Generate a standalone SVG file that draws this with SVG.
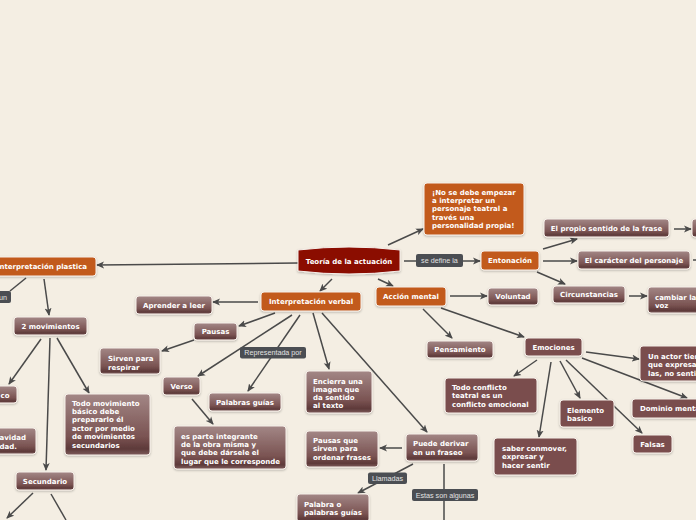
<svg xmlns="http://www.w3.org/2000/svg" width="696" height="520" viewBox="0 0 696 520">
<defs>
<linearGradient id="gr" x1="0" y1="0" x2="0" y2="1">
<stop offset="0" stop-color="#a38786"/>
<stop offset="0.7" stop-color="#7a5352"/>
<stop offset="0.9" stop-color="#5e3a3a"/>
<stop offset="1" stop-color="#7d5b5a"/>
</linearGradient>
<marker id="ah" markerWidth="8" markerHeight="8" refX="7" refY="4" orient="auto" markerUnits="userSpaceOnUse">
<path d="M0,0.5 L8,4 L0,7.5 L2,4 Z" fill="#4a4a4a"/>
</marker>
<filter id="sh" x="-10%" y="-10%" width="120%" height="140%">
<feDropShadow dx="0" dy="1" stdDeviation="0.8" flood-color="#000" flood-opacity="0.25"/>
</filter>
</defs>
<style>
.c{fill:none;stroke:#4a4a4a;stroke-width:1.5}
.a{marker-end:url(#ah)}
.g{fill:url(#gr);stroke:#f7f0ea;stroke-width:1;filter:url(#sh)}
.f{fill:#7a4e4d;stroke:#f7f0ea;stroke-width:1;filter:url(#sh)}
.o{fill:#c25a1f;stroke:#f7f0ea;stroke-width:1;filter:url(#sh)}
.t{fill:#fff;font-family:"DejaVu Sans",Verdana,sans-serif;font-weight:bold;font-size:7px}
.m{text-anchor:middle}
.e{text-anchor:end}
.lb{fill:#4b4e53}
.lt{fill:#e2e2e2;font-family:"Liberation Sans",Arial,sans-serif;font-size:7.2px;text-anchor:middle}
</style>
<rect width="696" height="520" fill="#f4eee3"/>
<g id="connectors">
<path class="c a" d="M298,263 L97,265"/>
<path class="c" d="M26,278 L10,291"/>
<path class="c a" d="M44,279 L49,315"/>
<path class="c a" d="M41,339 L9,384"/>
<path class="c a" d="M50,338 L46,470"/>
<path class="c a" d="M57,338 L89,393"/>
<path class="c a" d="M33,493 L7,518"/>
<path class="c" d="M51,494 L66,520"/>
<path class="c a" d="M332,279 L320,291"/>
<path class="c a" d="M378,279 L393,286"/>
<path class="c a" d="M258,302 L213,302"/>
<path class="c a" d="M275,313 L239,326"/>
<path class="c a" d="M194,340 L162,351"/>
<path class="c a" d="M292,315 L198,376"/>
<path class="c a" d="M300,315 L248,391"/>
<path class="c a" d="M313,313 L329,369"/>
<path class="c a" d="M322,313 L427,432"/>
<path class="c a" d="M192,399 L213,424"/>
<path class="c a" d="M402,448 L380,448"/>
<path class="c a" d="M413,464 L358,493"/>
<path class="c" d="M444,464 L444,520"/>
<path class="c a" d="M388,245 L423,229"/>
<path class="c a" d="M404,261 L480,261"/>
<path class="c a" d="M543,249 L577,239"/>
<path class="c a" d="M674,229 L691,229"/>
<path class="c a" d="M543,261 L577,261"/>
<path class="c" d="M693,260 L700,260"/>
<path class="c a" d="M537,272 L565,284"/>
<path class="c a" d="M629,296 L647,296"/>
<path class="c a" d="M450,296 L487,296"/>
<path class="c a" d="M423,309 L452,338"/>
<path class="c a" d="M441,308 L524,337"/>
<path class="c a" d="M586,352 L639,359"/>
<path class="c a" d="M537,360 L514,376"/>
<path class="c a" d="M551,362 L539,437"/>
<path class="c a" d="M560,361 L580,398"/>
<path class="c a" d="M566,360 L642,433"/>
<path class="c a" d="M582,358 L687,398"/>
</g>
<g id="lbl-un"><rect class="lb" x="-8" y="291" width="19" height="12" rx="2"/><text class="lt" x="7" y="299.5" style="text-anchor:end">un</text></g>
<g id="lbl-representada"><rect class="lb" x="240" y="347" width="66" height="11.5" rx="2"/><text class="lt" x="273" y="355.3">Representada por</text></g>
<g id="lbl-llamadas"><rect class="lb" x="368" y="472.5" width="39" height="11.5" rx="2"/><text class="lt" x="387.5" y="480.8">Llamadas</text></g>
<g id="lbl-estas"><rect class="lb" x="412" y="489" width="66" height="12" rx="2"/><text class="lt" x="445" y="497.6">Estas son algunas</text></g>
<g id="lbl-define"><rect class="lb" x="416" y="254" width="47" height="13" rx="2"/><text class="lt" x="439.5" y="263">se define la</text></g>

<g id="teoria"><path d="M298,250 Q349,244 400,250 L400,271 Q349,277 298,271 Z" fill="#8b0b03" stroke="#f7f0ea" stroke-width="1" filter="url(#sh)"/><text class="t m" x="349" y="263.5">Teoría de la actuación</text></g>
<g id="plastica"><rect class="o" x="-12" y="257" width="108" height="19" rx="3"/><text class="t m" x="42" y="269">Interpretación plastica</text></g>
<g id="movimientos"><rect class="g" x="14" y="317" width="73" height="18" rx="3"/><text class="t m" x="50.5" y="328.8">2 movimientos</text></g>
<g id="basico"><rect class="g" x="-30" y="386" width="47" height="17" rx="3"/><text class="t e" x="9.5" y="397.5">co</text></g>
<g id="gravidad"><rect class="g" x="-30" y="428" width="66" height="26" rx="3"/><text class="t e" x="26" y="440">avidad</text><text class="t e" x="17" y="449">idad.</text></g>
<g id="todomov"><rect class="g" x="65" y="394" width="85" height="61" rx="3"/><text class="t" x="72"><tspan x="72" y="405.5">Todo movimiento</tspan><tspan x="72" y="413.9">básico debe</tspan><tspan x="72" y="422.3">prepararlo él</tspan><tspan x="72" y="430.7">actor por medio</tspan><tspan x="72" y="439.1">de movimientos</tspan><tspan x="72" y="447.5">secundarios</tspan></text></g>
<g id="secundario"><rect class="g" x="16" y="472" width="58" height="18" rx="3"/><text class="t m" x="45" y="483.5">Secundario</text></g>
<g id="aprender"><rect class="g" x="136" y="296" width="76" height="18" rx="3"/><text class="t m" x="174" y="307.8">Aprender a leer</text></g>
<g id="sirven"><rect class="g" x="100" y="348" width="60" height="26" rx="3"/><text class="t"><tspan x="108" y="360.5">Sirven para</tspan><tspan x="108" y="369.5">respirar</tspan></text></g>
<g id="verbal"><rect class="o" x="261" y="292" width="100" height="19" rx="3"/><text class="t m" x="311" y="304.3">Interpretación verbal</text></g>
<g id="pausas"><rect class="g" x="194" y="323" width="43" height="17" rx="3"/><text class="t m" x="215.5" y="334">Pausas</text></g>
<g id="verso"><rect class="g" x="163" y="377" width="37" height="18" rx="3"/><text class="t m" x="181.5" y="388.8">Verso</text></g>
<g id="palabras"><rect class="g" x="209" y="393" width="72" height="18" rx="3"/><text class="t m" x="245" y="404.8">Palabras guías</text></g>
<g id="esparte"><rect class="g" x="174" y="426" width="112" height="43" rx="3"/><text class="t"><tspan x="181" y="438.5">es parte integrante</tspan><tspan x="181" y="446.9">de la obra misma y</tspan><tspan x="181" y="455.3">que debe dársele el</tspan><tspan x="181" y="463.7">lugar que le corresponde</tspan></text></g>
<g id="encierra"><rect class="g" x="306" y="371" width="66" height="42" rx="3"/><text class="t"><tspan x="313" y="383.5">Encierra una</tspan><tspan x="313" y="391.8">imagen que</tspan><tspan x="313" y="400.1">da sentido</tspan><tspan x="313" y="408.4">al texto</tspan></text></g>
<g id="pausasque"><rect class="g" x="306" y="431" width="72" height="36" rx="3"/><text class="t"><tspan x="313" y="442.5">Pausas que</tspan><tspan x="313" y="451">sirven para</tspan><tspan x="313" y="459.5">ordenar frases</tspan></text></g>
<g id="puede"><rect class="g" x="406" y="434" width="72" height="27" rx="3"/><text class="t"><tspan x="413" y="445.5">Puede derivar</tspan><tspan x="413" y="454.5">en un fraseo</tspan></text></g>
<g id="palabra"><rect class="g" x="297" y="494" width="72" height="28" rx="3"/><text class="t"><tspan x="304" y="506.5">Palabra o</tspan><tspan x="304" y="515">palabras guías</tspan></text></g>
<g id="nose"><rect class="o" x="424" y="183" width="100" height="52" rx="3"/><text class="t"><tspan x="432" y="194.5">¡No se debe empezar</tspan><tspan x="432" y="202.9">a interpretar un</tspan><tspan x="432" y="211.3">personaje teatral a</tspan><tspan x="432" y="219.7">través una</tspan><tspan x="432" y="228.1">personalidad propia!</tspan></text></g>
<g id="entonacion"><rect class="o" x="481" y="251" width="58" height="19" rx="3"/><text class="t m" x="510" y="263">Entonación</text></g>
<g id="propio"><rect class="g" x="544" y="219" width="125" height="18" rx="3"/><text class="t m" x="606.5" y="230.5">El propio sentido de la frase</text></g>
<g id="propio-next"><rect class="g" x="692" y="219" width="20" height="18" rx="3"/></g>
<g id="caracter"><rect class="g" x="578" y="251" width="112" height="18" rx="3"/><text class="t m" x="634" y="262.5">El carácter del personaje</text></g>
<g id="circunstancias"><rect class="g" x="553" y="286" width="72" height="17" rx="3"/><text class="t m" x="589" y="297">Circunstancias</text></g>
<g id="cambiar"><rect class="g" x="648" y="287" width="62" height="26" rx="3"/><text class="t"><tspan x="655" y="299.5">cambiar la</tspan><tspan x="655" y="308">voz</tspan></text></g>
<g id="accion"><rect class="o" x="376" y="287" width="70" height="19" rx="3"/><text class="t m" x="411" y="299.3">Acción mental</text></g>
<g id="voluntad"><rect class="g" x="488" y="288" width="50" height="17" rx="3"/><text class="t m" x="513" y="299">Voluntad</text></g>
<g id="pensamiento"><rect class="g" x="427" y="341" width="66" height="17" rx="3"/><text class="t m" x="460" y="352">Pensamiento</text></g>
<g id="emociones"><rect class="f" x="525" y="338" width="57" height="18" rx="3"/><text class="t m" x="553.5" y="349.5">Emociones</text></g>
<g id="unactor"><rect class="f" x="640" y="346" width="70" height="35" rx="3"/><text class="t"><tspan x="648" y="358.5">Un actor tiene</tspan><tspan x="648" y="367">que expresar</tspan><tspan x="648" y="375.5">las, no sentirlas</tspan></text></g>
<g id="conflicto"><rect class="f" x="445" y="378" width="92" height="35" rx="3"/><text class="t"><tspan x="452" y="389.5">Todo conflicto</tspan><tspan x="452" y="397.8">teatral es un</tspan><tspan x="452" y="406.5">conflicto emocional</tspan></text></g>
<g id="saber"><rect class="f" x="494" y="438" width="83" height="37" rx="3"/><text class="t"><tspan x="502" y="450.5">saber conmover,</tspan><tspan x="502" y="459">expresar y</tspan><tspan x="502" y="467.5">hacer sentir</tspan></text></g>
<g id="elemento"><rect class="f" x="560" y="400" width="54" height="27" rx="3"/><text class="t"><tspan x="567" y="412.5">Elemento</tspan><tspan x="567" y="421">basico</tspan></text></g>
<g id="falsas"><rect class="f" x="633" y="435" width="39" height="18" rx="3"/><text class="t m" x="652.5" y="446.5">Falsas</text></g>
<g id="dominio"><rect class="f" x="632" y="399" width="78" height="19" rx="3"/><text class="t" x="640" y="411">Dominio mental</text></g>
</svg>
